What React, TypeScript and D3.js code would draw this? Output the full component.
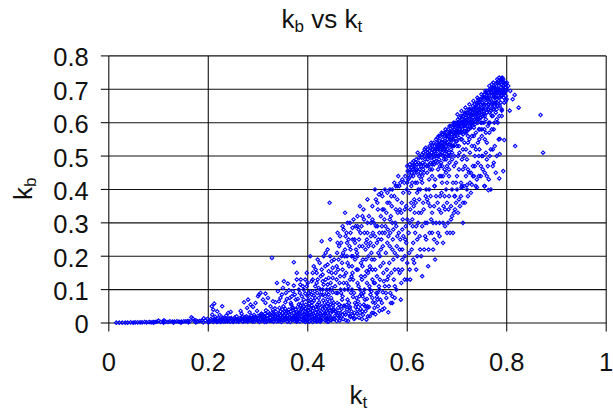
import { useEffect, useRef } from 'react';
import * as d3 from 'd3';

// [kt, kb] pairs, grouped by region of the cloud
const baseline: number[][] = [
  [.015,.001],[.021,.001],[.027,.001],[.033,.001],[.038,.001],[.044,.002],[.049,.001],[.053,.002],[.058,.002],[.063,.002],[.067,.002],[.072,.003],[.076,.002],[.081,.003],[.085,.002],[.089,.003],[.093,.003],[.097,.004],[.1,.007],[.104,.003],[.109,.004],[.111,.008],[.114,.004],[.119,.003],[.123,.005],[.128,.004],[.132,.004],[.137,.005],[.141,.004],[.146,.004],[.151,.005],[.155,.005],[.159,.006],[.163,.005],[.166,.017],[.169,.013],[.172,.006],[.175,.008],[.179,.005],[.183,.006],[.187,.007],[.191,.014],[.194,.008],[.198,.012],[.201,.006],[.16,.002],[.175,.002],[.19,.002],[.2,.002],[.13,.001],[.145,.001],[.11,.001],[.09,.001],
];
const lowBase: number[][] = [
  [.205,.012],[.208,.025],[.211,.008],[.214,.018],[.217,.003],[.22,.014],[.223,.024],[.226,.006],[.229,.016],[.232,.011],[.236,.022],[.239,.005],[.243,.009],[.246,.015],[.25,.003],[.254,.012],[.257,.02],[.26,.007],[.264,.015],[.267,.028],[.27,.004],[.273,.011],[.277,.02],[.28,.008],[.283,.032],[.286,.015],[.289,.004],[.292,.024],[.295,.011],[.298,.036],[.301,.006],[.304,.019],[.307,.028],[.31,.012],[.313,.003],[.316,.038],[.319,.022],[.322,.008],[.325,.016],[.328,.03],[.331,.004],[.334,.044],[.337,.012],[.34,.024],[.342,.006],[.345,.035],[.348,.017],[.351,.05],[.353,.009],[.356,.028],[.359,.004],[.362,.04],[.364,.018],[.367,.055],[.37,.01],[.372,.03],[.375,.022],[.378,.004],[.38,.048],[.383,.014],[.385,.036],[.388,.06],[.39,.007],[.393,.025],[.395,.043],[.398,.016],[.4,.068],[.403,.004],[.405,.032],[.408,.052],[.41,.011],[.413,.022],[.415,.075],[.418,.04],[.42,.006],[.423,.062],[.425,.028],[.428,.016],[.43,.085],[.433,.048],[.435,.008],[.438,.036],[.44,.07],[.443,.02],[.445,.055],[.448,.012],[.45,.092],[.3,.013],[.31,.024],[.32,.033],[.33,.018],[.34,.009],[.35,.03],[.36,.022],[.37,.038],[.38,.028],[.39,.044],[.4,.021],[.41,.036],[.42,.048],[.43,.03],[.44,.012],[.45,.04],[.35,.008],[.365,.003],[.38,.008],[.395,.003],[.41,.003],[.425,.004],[.44,.004],[.33,.01],[.345,.023],[.355,.042],[.375,.013],[.385,.052],[.402,.046],[.418,.014],[.432,.022],[.446,.03],
  [.303,.003],[.306,.012],[.312,.019],[.318,.013],[.323,.026],[.327,.007],[.332,.024],[.336,.034],[.341,.016],[.344,.013],[.349,.041],[.352,.022],[.357,.012],[.361,.031],[.363,.009],[.368,.021],[.371,.045],[.374,.006],[.377,.033],[.381,.018],[.384,.024],[.387,.011],[.389,.033],[.392,.05],[.394,.014],[.397,.03],[.399,.006],[.401,.038],[.404,.014],[.407,.026],[.409,.062],[.411,.044],[.414,.008],[.416,.03],[.419,.055],[.421,.02],[.424,.038],[.426,.011],[.429,.05],[.431,.068],[.434,.028],[.436,.042],[.439,.016],[.441,.058],[.444,.038],[.447,.008],[.449,.066],[.214,.008],[.221,.006],[.228,.009],[.235,.005],[.242,.014],[.249,.008],[.256,.005],[.263,.009],[.269,.018],[.275,.006],[.282,.016],[.288,.01],[.294,.018],[.299,.007],[.305,.025],[.315,.008],[.329,.012],[.338,.005],[.347,.003],[.358,.015],[.366,.012],[.379,.012],[.386,.019],[.391,.014],[.396,.009],[.406,.009],[.417,.005],[.422,.012],[.427,.008],[.437,.012],[.442,.005],[.33,.04],[.343,.045],[.358,.035],[.369,.046],[.376,.04],[.382,.056],[.396,.055],[.403,.058],[.412,.066],[.422,.075],[.434,.06],[.442,.085],[.447,.075],
  [.452,.012],[.455,.022],[.458,.006],[.461,.045],[.463,.018],[.466,.03],[.469,.07],[.471,.012],[.473,.052],[.476,.025],[.479,.04],[.481,.006],[.483,.06],[.486,.018],[.488,.035],[.491,.078],[.493,.012],[.496,.048],[.499,.028],[.501,.065],[.503,.016],[.506,.042],[.508,.088],[.511,.024],[.513,.055],[.516,.035],[.519,.072],[.521,.02],[.523,.048],[.526,.085],[.529,.03],[.531,.062],[.534,.045],[.536,.026],[.539,.078],[.541,.05],[.544,.036],[.546,.07],[.549,.06],[.551,.092],[.554,.044],[.558,.075],[.562,.032],[.566,.09],[.57,.06],[.575,.075],[.453,.04],[.459,.06],[.464,.007],[.467,.09],[.474,.1],[.477,.008],[.484,.045],[.489,.1],[.494,.03],[.498,.055],[.504,.08],[.509,.012],[.514,.1],[.518,.01],[.524,.11],[.528,.095],[.533,.12],[.543,.11],[.553,.125],[.563,.11],[.573,.13],[.578,.1],
  [.203,.004],[.207,.009],[.21,.003],[.213,.012],[.216,.007],[.219,.004],[.222,.009],[.225,.003],[.227,.012],[.231,.004],[.234,.014],[.237,.008],[.24,.012],[.244,.004],[.247,.011],[.251,.008],[.253,.016],[.258,.01],[.261,.004],[.265,.011],[.268,.006],[.271,.014],[.274,.018],[.276,.009],[.279,.004],[.281,.013],[.284,.007],[.287,.022],[.29,.009],[.293,.005],[.296,.016],[.3,.021],[.308,.007],[.311,.016],[.314,.028],[.317,.004],[.32,.012],[.324,.006],[.326,.024],[.33,.027],[.333,.014],[.335,.021],[.339,.017],[.343,.028],[.346,.009],[.35,.018],[.354,.034],[.355,.015],[.36,.011],[.363,.026],[.366,.035],[.369,.015],[.373,.018],[.376,.009],[.379,.024],[.382,.031],[.384,.005],[.387,.041],[.39,.024],[.393,.008],[.395,.034],[.398,.024],[.4,.012],[.403,.024],[.406,.042],[.409,.018],[.411,.028],[.414,.015],[.416,.048],[.419,.024],[.422,.033],[.424,.054],[.427,.022],[.43,.042],[.432,.012],[.435,.026],[.438,.05],[.44,.03],[.443,.044],[.446,.018],[.449,.034],[.451,.052],[.454,.012],[.457,.034],[.46,.022],[.463,.056],[.465,.014],[.468,.042],[.47,.024],[.474,.03],[.478,.054],[.482,.028],[.485,.048],[.49,.022],[.495,.014],[.5,.04],[.505,.054],[.51,.035],[.515,.07],[.52,.045],[.525,.02],[.53,.075],[.535,.06],[.54,.09],
];
const lowScatter: number[][] = [
  [.207,.05],[.21,.04],[.212,.058],[.218,.035],[.228,.05],[.24,.03],[.245,.033],[.265,.036],[.272,.062],[.278,.045],[.285,.055],[.29,.048],[.3,.08],[.302,.085],[.305,.09],[.31,.07],[.315,.088],[.325,.05],[.33,.065],[.335,.062],[.34,.095],[.345,.075],[.35,.105],[.355,.062],[.362,.098],[.368,.08],[.372,.112],[.378,.13],[.38,.072],[.385,.115],[.39,.11],[.395,.088],[.328,.195],[.338,.12],[.352,.125],[.36,.118],[.372,.182],[.378,.15],[.395,.13],[.4,.12],[.405,.095],[.41,.15],[.415,.11],[.42,.13],[.425,.1],[.43,.145],[.435,.17],[.44,.115],[.445,.2],[.45,.135],[.405,.2],[.42,.19],[.428,.245],[.445,.25],[.444,.36],[.435,.08],[.412,.17],[.45,.165],
  [.348,.085],[.356,.09],[.364,.075],[.37,.095],[.376,.07],[.384,.09],[.388,.08],[.392,.1],[.398,.11],[.402,.09],[.408,.125],[.414,.095],[.418,.12],[.422,.105],[.426,.14],[.432,.115],[.436,.13],[.438,.1],[.442,.155],[.446,.12],[.448,.185],[.408,.085],[.416,.16],[.424,.18],[.432,.2],[.44,.22],[.436,.21],[.44,.175],[.428,.16],
  [.28,.07],[.295,.06],[.315,.06],[.32,.075],[.342,.065],[.358,.072],[.366,.06],[.374,.085],[.382,.1],[.392,.07],[.4,.08],[.406,.07],[.412,.082],[.419,.09],[.426,.085],[.43,.1],[.438,.09],[.444,.1],[.448,.105],[.386,.13],[.398,.15],[.41,.13],[.418,.15],[.43,.125],[.442,.135],[.448,.15],
];
const midCloud: number[][] = [
  [.452,.06],[.455,.11],[.458,.17],[.46,.24],[.462,.03],[.465,.14],[.468,.2],[.47,.08],[.472,.28],[.475,.05],[.478,.12],[.48,.18],[.482,.25],[.485,.02],[.487,.09],[.49,.15],[.492,.31],[.495,.06],[.497,.22],[.5,.12],[.502,.28],[.505,.03],[.507,.18],[.51,.08],[.512,.34],[.515,.14],[.517,.24],[.52,.05],[.522,.2],[.525,.1],[.527,.3],[.53,.16],[.532,.03],[.535,.26],[.537,.37],[.54,.07],[.542,.21],[.545,.13],[.547,.32],[.55,.04],[.552,.18],[.555,.27],[.557,.09],[.56,.36],[.562,.14],[.565,.23],[.567,.06],[.57,.3],[.572,.19],[.575,.11],[.577,.41],[.58,.26],[.582,.16],[.585,.34],[.587,.07],[.59,.22],[.592,.39],[.595,.13],[.597,.29],[.6,.18],[.455,.035],[.46,.09],[.465,.26],[.47,.16],[.475,.22],[.48,.07],[.485,.13],[.49,.25],[.495,.19],[.5,.32],[.505,.1],[.51,.23],[.515,.05],[.52,.27],[.525,.17],[.53,.35],[.535,.12],[.54,.29],[.545,.2],[.55,.38],[.555,.11],[.56,.24],[.565,.31],[.57,.08],[.575,.21],[.58,.37],[.585,.15],[.59,.28],[.595,.2],[.6,.13],[.458,.13],[.468,.05],[.478,.27],[.488,.2],[.498,.075],[.508,.29],[.518,.155],[.528,.21],[.538,.09],[.548,.25],[.558,.33],[.568,.15],[.578,.29],[.588,.12],[.598,.35],[.606,.13],[.612,.24],[.618,.16],[.622,.3],[.628,.2],[.632,.36],[.638,.25],[.642,.17],[.648,.31],[.652,.22],[.658,.38],[.662,.27],[.668,.33],[.672,.24],[.678,.4],[.682,.3],[.688,.35],[.692,.27],[.698,.42],[.702,.33],[.708,.38],[.712,.3],[.718,.44],[.604,.21],[.61,.31],[.616,.27],[.624,.37],[.63,.14],[.636,.3],[.644,.4],[.65,.27],[.656,.19],[.664,.34],[.67,.42],[.676,.29],[.684,.44],[.69,.32],[.696,.38],[.704,.46],[.71,.41],[.716,.36],[.72,.49],[.726,.42],[.732,.47],[.738,.41],[.744,.44],[.75,.5],[.756,.41],[.762,.47],[.768,.4],[.772,.52],[.778,.45],[.73,.414],[.74,.406],[.755,.41],[.763,.398],[.72,.413],[.709,.406],[.695,.38],[.68,.36],[.665,.3],[.645,.27],[.62,.2],[.605,.16],[.59,.16],[.475,.33],[.485,.3],[.505,.35],[.52,.37],[.535,.4],[.548,.39],[.565,.4],[.582,.44],
  [.456,.15],[.459,.21],[.462,.19],[.464,.12],[.467,.24],[.471,.21],[.473,.14],[.476,.26],[.479,.2],[.481,.1],[.484,.23],[.486,.27],[.489,.17],[.491,.13],[.494,.25],[.496,.29],[.499,.21],[.501,.16],[.503,.25],[.506,.27],[.509,.13],[.511,.19],[.513,.31],[.516,.22],[.519,.25],[.521,.15],[.523,.32],[.526,.24],[.529,.19],[.531,.27],[.533,.3],[.536,.16],[.539,.24],[.541,.34],[.544,.27],[.546,.17],[.549,.29],[.551,.23],[.553,.34],[.556,.29],[.559,.16],[.561,.28],[.564,.36],[.566,.27],[.569,.35],[.571,.25],[.574,.38],[.576,.3],[.579,.23],[.581,.33],[.584,.41],[.586,.25],[.589,.36],[.591,.31],[.594,.42],[.596,.25],[.599,.4],[.46,.27],[.47,.29],[.48,.3],[.49,.285],[.5,.29],[.51,.32],[.52,.3],[.53,.31],[.54,.36],[.55,.34],[.56,.39],[.57,.4],[.58,.41],[.59,.43],[.6,.42],[.543,.385],[.555,.4],[.568,.38],[.574,.42],[.586,.42],[.596,.44],[.605,.3],[.608,.36],[.612,.19],[.615,.33],[.62,.39],[.625,.26],[.628,.33],[.634,.22],[.637,.38],[.64,.3],[.646,.35],[.652,.3],[.655,.41],[.66,.24],[.666,.38],[.673,.35],[.68,.42],[.686,.27],[.69,.4],[.694,.33],[.7,.4],[.706,.35],[.714,.41],[.722,.38],[.728,.45],[.734,.44],[.742,.48],[.752,.46],[.76,.44],[.766,.5],[.774,.48],[.613,.35],[.618,.29],[.626,.4],[.642,.36],[.654,.35],[.668,.44],[.675,.38],[.683,.34],[.698,.36],[.712,.46],[.722,.46],[.736,.5],[.748,.47],[.758,.51],
  [.453,.19],[.457,.09],[.461,.16],[.463,.23],[.466,.1],[.469,.18],[.472,.12],[.474,.2],[.477,.15],[.479,.24],[.482,.11],[.483,.17],[.486,.22],[.488,.14],[.491,.2],[.493,.09],[.495,.24],[.498,.16],[.5,.2],[.502,.11],[.504,.23],[.507,.14],[.51,.17],[.512,.09],[.514,.27],[.517,.19],[.519,.12],[.522,.23],[.524,.16],[.527,.26],[.53,.13],[.532,.23],[.534,.19],[.537,.29],[.539,.14],[.542,.25],[.544,.1],[.547,.22],[.55,.27],[.552,.15],[.554,.31],[.557,.21],[.56,.13],[.562,.26],[.564,.18],[.567,.32],[.57,.22],[.572,.28],[.575,.16],[.577,.34],[.58,.2],[.583,.27],[.585,.22],[.588,.33],[.59,.19],[.592,.26],[.595,.34],[.598,.24],[.6,.31],[.603,.27],[.606,.34],[.609,.22],[.611,.29],[.614,.18],[.617,.36],[.62,.25],[.623,.33],[.626,.22],[.63,.29],[.633,.34],[.636,.26],[.64,.37],[.643,.22],[.647,.38],[.65,.33],[.654,.25],[.658,.3],[.661,.36],[.665,.26],[.669,.39],[.672,.3],[.676,.34],[.68,.27],[.684,.38],[.688,.31],[.692,.42],[.696,.34],[.7,.44],[.704,.37],[.708,.42],[.712,.36],[.716,.47],[.72,.4],[.724,.45],[.728,.39],[.732,.44],[.736,.47],[.74,.43],[.744,.5],[.748,.44],[.752,.5],[.756,.45],[.76,.49],[.764,.43],[.768,.52],[.772,.47],[.776,.53],[.78,.5],[.784,.55],
];
const upperBand: number[][] = [
  [.6,.47],[.602,.43],[.604,.39],[.606,.46],[.608,.41],[.61,.48],[.612,.44],[.614,.37],[.616,.42],[.618,.49],[.62,.46],[.622,.4],[.624,.44],[.626,.5],[.628,.47],[.63,.42],[.632,.51],[.634,.45],[.636,.49],[.638,.4],[.64,.52],[.642,.47],[.644,.43],[.646,.5],[.648,.54],[.65,.46],[.652,.52],[.654,.49],[.656,.43],[.658,.55],[.66,.5],[.662,.46],[.664,.53],[.666,.56],[.668,.48],[.67,.51],[.672,.44],[.674,.57],[.676,.54],[.678,.49],[.68,.52],[.682,.58],[.684,.46],[.686,.55],[.688,.59],[.69,.51],[.692,.57],[.694,.53],[.696,.6],[.698,.48],[.7,.56],[.702,.61],[.704,.53],[.706,.58],[.708,.62],[.71,.55],[.712,.6],[.714,.5],[.716,.63],[.718,.57],[.72,.61],[.722,.54],[.724,.64],[.726,.59],[.728,.62],[.73,.56],[.732,.65],[.734,.6],[.736,.63],[.738,.52],[.74,.66],[.742,.62],[.744,.58],[.746,.67],[.748,.64],[.75,.6],[.752,.68],[.754,.65],[.756,.55],[.758,.69],[.76,.63],[.762,.67],[.764,.6],[.766,.7],[.768,.65],[.77,.68],[.772,.62],[.774,.71],[.776,.66],[.778,.69],[.78,.64],[.782,.72],[.784,.68],[.786,.7],[.788,.66],[.79,.73],[.792,.71],[.794,.69],[.796,.72],[.798,.68],[.8,.7],
  [.603,.45],[.607,.44],[.611,.46],[.615,.47],[.619,.45],[.623,.48],[.627,.45],[.631,.48],[.635,.52],[.639,.47],[.643,.5],[.647,.48],[.651,.5],[.655,.53],[.659,.52],[.663,.5],[.667,.54],[.671,.55],[.675,.52],[.679,.56],[.683,.53],[.687,.57],[.691,.55],[.695,.58],[.699,.59],[.703,.57],[.707,.6],[.711,.58],[.715,.61],[.719,.6],[.723,.62],[.727,.61],[.731,.63],[.735,.64],[.739,.62],[.743,.65],[.747,.63],[.751,.66],[.755,.67],[.759,.66],[.763,.69],[.767,.67],[.771,.7],[.775,.69],[.779,.71],[.783,.7],[.787,.72],[.791,.7],[.795,.7],
  [.66,.53],[.668,.52],[.676,.56],[.684,.51],[.692,.53],[.7,.58],[.708,.55],[.716,.59],[.724,.58],[.732,.6],[.74,.61],[.748,.6],[.756,.62],[.764,.64],[.772,.66],[.78,.67],[.788,.68],[.672,.5],[.68,.54],[.688,.55],[.696,.56],[.704,.59],[.712,.62],[.72,.59],[.728,.64],[.736,.61],[.744,.63],[.752,.64],[.76,.68],[.768,.69],[.776,.7],[.784,.71],[.792,.72],
  [.735,.53],[.745,.55],[.725,.55],[.715,.54],[.705,.51],[.695,.5],[.685,.48],[.675,.46],[.665,.44],[.655,.41],[.765,.57],[.775,.6],[.785,.62],[.755,.58],[.745,.52],[.76,.54],[.77,.58],[.78,.61],[.79,.64],[.795,.66],[.8,.67],[.75,.56],
  [.601,.455],[.605,.475],[.609,.45],[.613,.485],[.617,.46],[.621,.51],[.625,.475],[.629,.495],[.633,.47],[.637,.525],[.641,.49],[.645,.53],[.649,.51],[.653,.54],[.657,.505],[.661,.555],[.665,.52],[.669,.57],[.673,.53],[.677,.58],[.681,.55],[.685,.59],[.689,.565],[.693,.6],[.697,.57],[.701,.625],[.705,.6],[.709,.635],[.713,.59],[.717,.645],[.721,.63],[.725,.655],[.729,.6],[.733,.665],[.737,.645],[.741,.675],[.745,.64],[.749,.685],[.753,.655],[.757,.695],[.761,.675],[.765,.71],[.769,.665],[.773,.72],[.777,.685],[.781,.73],[.785,.735],[.789,.715],[.793,.73],[.797,.705],[.799,.715],
  [.642,.51],[.647,.525],[.652,.505],[.656,.52],[.661,.535],[.665,.505],[.67,.54],[.674,.515],[.678,.53],[.682,.56],[.687,.54],[.69,.575],[.694,.59],[.698,.545],[.702,.575],[.706,.615],[.71,.57],[.714,.6],[.718,.615],[.722,.58],[.726,.625],[.73,.61],[.734,.585],[.738,.635],[.742,.6],[.746,.655],[.75,.625],[.754,.635],[.758,.61],[.762,.655],[.766,.63],[.77,.655],[.774,.64],[.778,.675],[.782,.65],[.786,.69],[.79,.68],[.794,.71],[.798,.695],[.78,.7],[.775,.675],[.77,.715],[.76,.695],[.755,.685],[.745,.66],[.74,.645],[.73,.625],[.725,.64],[.715,.625],[.705,.605],[.695,.595],[.685,.57],[.675,.56],[.665,.545],[.655,.515],[.645,.515],[.635,.5],[.625,.46],[.615,.45],
  [.67,.47],[.678,.45],[.686,.5],[.694,.47],[.702,.5],[.71,.49],[.718,.52],[.726,.51],[.734,.56],[.742,.54],[.75,.58],[.758,.57],[.766,.6],[.774,.58],[.782,.6],[.79,.62],[.722,.56],[.73,.53],[.738,.57],[.746,.58],[.754,.6],[.762,.59],[.77,.62],[.778,.63],[.786,.65],[.712,.52],[.7,.53],[.69,.49],[.68,.47],[.66,.48],[.65,.44],[.64,.45],[.63,.44],[.62,.42],[.61,.42],
  [.604,.435],[.608,.465],[.612,.47],[.616,.48],[.62,.475],[.624,.495],[.628,.43],[.632,.46],[.636,.475],[.64,.5],[.644,.475],[.648,.495],[.652,.48],[.656,.5],[.66,.515],[.664,.49],[.668,.505],[.672,.525],[.676,.5],[.68,.505],[.684,.535],[.688,.52],[.692,.55],[.696,.535],[.7,.545],[.704,.555],[.708,.575],[.712,.565],[.716,.575],[.72,.575],[.724,.6],[.728,.585],[.732,.615],[.736,.595],[.74,.625],[.744,.61],[.748,.615],[.752,.62],[.756,.64],[.76,.65],[.764,.655],[.768,.635],[.772,.64],[.776,.65],[.78,.66],[.784,.665],[.788,.695],[.792,.69],[.796,.69],[.663,.56],[.67,.565],[.678,.57],[.686,.575],[.694,.57],[.703,.595],[.711,.61],[.719,.63],[.727,.635],[.735,.655],[.743,.67],[.751,.675],[.759,.68],[.767,.695],[.775,.705],[.783,.725],[.791,.735],[.788,.73],[.78,.72],[.772,.705],[.764,.68],[.756,.675],[.748,.67],[.74,.655],[.732,.64],[.724,.62],[.716,.605],[.708,.59],[.7,.6],[.692,.585],[.684,.56],[.676,.545],[.668,.53],[.66,.54],[.65,.53],[.64,.51],[.63,.505],
  [.77,.69],[.774,.68],[.778,.655],[.782,.69],[.786,.675],[.79,.695],[.794,.675],[.798,.665],[.762,.64],[.766,.66],[.75,.645],[.754,.625],[.742,.635],[.746,.615],[.734,.625],[.738,.605],[.726,.6],[.73,.59],[.718,.6],[.722,.605],[.71,.6],[.714,.575],[.702,.59],[.706,.57],[.694,.56],[.698,.575],[.686,.535],[.69,.53],[.678,.515],[.682,.5],[.67,.53],[.674,.49],[.662,.525],[.666,.47],[.654,.475],[.658,.485],[.646,.46],[.65,.475],
];
const outliers: number[][] = [
  [.868,.623],[.873,.51],[.824,.645],[.816,.683],[.812,.67],[.817,.53],[.795,.548],[.786,.551],[.786,.506],[.793,.455],[.785,.433],[.806,.636],[.79,.636],[.807,.695],[.803,.71],[.8,.72],
];

const xTicks = [0, 0.2, 0.4, 0.6, 0.8, 1];
const yTicks = [0, 0.1, 0.2, 0.3, 0.4, 0.5, 0.6, 0.7, 0.8];

export default function App() {
  const ref = useRef<SVGSVGElement>(null);

  useEffect(() => {
    const svg = d3.select(ref.current);
    svg.selectAll('*').remove();
    const font = '"Liberation Sans", Arial, sans-serif';

    const x = d3.scaleLinear().domain([0, 1]).range([108.8, 606.2]);
    const y = d3.scaleLinear().domain([0, 0.8]).range([323, 55.9]);

    // grid
    svg.append('g').selectAll('line').data(xTicks).join('line')
      .attr('x1', d => x(d)).attr('x2', d => x(d))
      .attr('y1', y(0.8)).attr('y2', y(0))
      .attr('stroke', '#111').attr('stroke-width', 1.1);
    svg.append('g').selectAll('line').data(yTicks).join('line')
      .attr('x1', x(0)).attr('x2', x(1))
      .attr('y1', d => y(d)).attr('y2', d => y(d))
      .attr('stroke', '#111').attr('stroke-width', 1.1);

    // axes
    const xAxis = d3.axisBottom(x).tickValues(xTicks).tickFormat(d3.format('~g') as any).tickSize(8.5).offset(0);
    const yAxis = d3.axisLeft(y).tickValues(yTicks).tickFormat(d3.format('~g') as any).tickSize(8).tickPadding(12).offset(0);
    const gx = svg.append('g').attr('transform', `translate(0,${y(0)})`).call(xAxis);
    const gy = svg.append('g').attr('transform', `translate(${x(0)},0)`).call(yAxis);
    for (const g of [gx, gy]) {
      g.select('.domain').remove();
      g.selectAll('line').attr('stroke', '#111').attr('stroke-width', 1.1);
      g.selectAll('text').attr('fill', '#111')
        .style('font-family', font).style('font-size', '25.5px');
    }
    gx.selectAll('text').attr('dy', 0).attr('y', 47.7);
    gy.selectAll('text').attr('dy', '0.41em');

    // points
    const symbol = d3.symbol().type(d3.symbolDiamond2).size(8);
    const points = [...baseline, ...lowBase, ...lowScatter, ...midCloud, ...upperBand, ...outliers];
    svg.append('g').selectAll('path').data(points).join('path')
      .attr('d', symbol as any)
      .attr('transform', d => `translate(${x(d[0])},${y(d[1])})`)
      .attr('fill', 'none').attr('stroke', '#0000ff').attr('stroke-width', 1.1);

    // titles with subscripts
    const label = (text: string, sub: string, dy: number) => (t: any) => {
      t.append('tspan').text(text);
      t.append('tspan').text(sub).attr('font-size', 17).attr('dy', dy);
    };
    const title = svg.append('text').attr('x', 281.5).attr('y', 27.7)
      .attr('fill', '#111').attr('font-family', font).attr('font-size', 26);
    title.append('tspan').text('k');
    title.append('tspan').text('b').attr('font-size', 17).attr('dy', 4.5);
    title.append('tspan').text(' vs k').attr('dy', -4.5);
    title.append('tspan').text('t').attr('font-size', 17).attr('dy', 4.5);

    svg.append('text').attr('x', 349.5).attr('y', 404.2)
      .attr('fill', '#111').attr('font-family', font).attr('font-size', 26)
      .call(label('k', 't', 3.8));
    svg.append('text').attr('transform', 'translate(31.7,200) rotate(-90)')
      .attr('fill', '#111').attr('font-family', font).attr('font-size', 26)
      .call(label('k', 'b', 4.5));
  }, []);

  return <svg ref={ref} width={613} height={412} style={{ position: 'absolute', left: 0, top: 0, background: '#fff' }} />;
}
